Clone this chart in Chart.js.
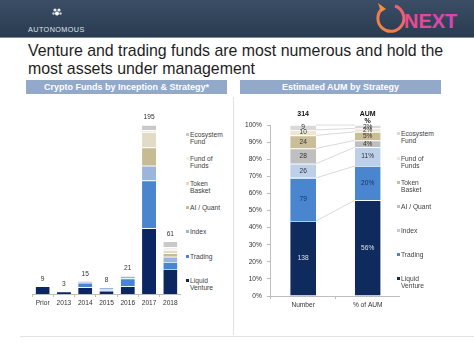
<!DOCTYPE html>
<html>
<head>
<meta charset="utf-8">
<script src="https://cdn.jsdelivr.net/npm/chart.js@4.4.1/dist/chart.umd.min.js"></script>
<style>
  html,body{margin:0;padding:0;background:#fff;}
  body{width:474px;height:343px;position:relative;overflow:hidden;font-family:"Liberation Sans",Arial,sans-serif;}
  .hdr{position:absolute;left:0;top:0;width:474px;height:37px;background:linear-gradient(#3b4e65,#2a3b51);border-bottom:1px solid #7a899b;}
  .auto{position:absolute;left:28px;top:25px;font-size:7.2px;color:#dfe4ea;letter-spacing:0.45px;}
  .title{position:absolute;left:28px;top:42px;font-size:15.9px;line-height:18px;color:#1e1e1e;white-space:nowrap;}
  .ph{position:absolute;top:80px;height:14px;background:#93a9c9;color:#fff;font-weight:bold;font-size:9px;line-height:14px;text-align:center;white-space:nowrap;}
  .box{position:absolute;}
  .leg{position:absolute;font-size:6.7px;line-height:7.4px;color:#404040;}
  .leg i{position:absolute;left:-4px;top:2px;width:2.6px;height:2.6px;}
  .sep{position:absolute;background:#e2e2e2;}
</style>
</head>
<body>
<div class="hdr">
  <svg width="474" height="38" style="position:absolute;left:0;top:0">
    <defs>
      <linearGradient id="ring" x1="0" y1="1" x2="1" y2="0">
        <stop offset="0" stop-color="#f08a3c"/><stop offset="1" stop-color="#ee5a78"/>
      </linearGradient>
      <linearGradient id="nx" x1="0" y1="0" x2="1" y2="0">
        <stop offset="0" stop-color="#ec4a86"/><stop offset="1" stop-color="#d544c0"/>
      </linearGradient>
    </defs>
    <circle cx="55" cy="10" r="1.6" fill="#e6e9ee"/>
    <circle cx="59" cy="10" r="1.6" fill="#e6e9ee"/>
    <circle cx="57" cy="13.5" r="2" fill="#ffffff"/>
    <circle cx="53.5" cy="13.5" r="1.2" fill="#c9d0da"/>
    <circle cx="60.5" cy="13.5" r="1.2" fill="#c9d0da"/>
    <path d="M383 8 A13 13 0 1 0 395 6" fill="none" stroke="url(#ring)" stroke-width="3"/>
    <path d="M378 3 L386 9 L381 12 Z" fill="#f0903c"/>
    <text x="404" y="28" font-family="Liberation Sans, Arial" font-weight="bold" font-size="20" fill="url(#nx)">NEXT</text>
  </svg>
  <div class="auto">AUTONOMOUS</div>
</div>
<div class="title">Venture and trading funds are most numerous and hold the<br>most assets under management</div>
<div class="ph" style="left:26px;width:201px;">Crypto Funds by Inception &amp; Strategy*</div>
<div class="ph" style="left:240px;width:201px;">Estimated AUM by Strategy</div>
<div class="sep" style="left:233px;top:97px;width:1px;height:238px;"></div>
<div class="sep" style="left:20px;top:336px;width:454px;height:1px;"></div>

<div class="box" style="left:32px;top:105px;width:149px;height:204px;"><canvas id="c1"></canvas></div>
<div class="box" style="left:240px;top:100px;width:160px;height:211px;"><canvas id="c2"></canvas></div>
<div id="leg1"></div>
<div id="leg2"></div>

<script>
// ---------- Left chart data: crypto funds by inception year & strategy ----------
const years = ['Prior','2013','2014','2015','2016','2017','2018'];
const liquidVenture = [9, 3, 8, 4, 9, 76, 29];
const trading       = [0, 0, 5, 2, 9, 55, 8];
const indexFunds    = [0, 0, 2, 2, 3, 17, 6];
const aiQuant       = [0, 0, 0, 0, 0, 21, 4];
const tokenBasket   = [0, 0, 0, 0, 0, 18, 4];
const fundOfFunds   = [0, 0, 0, 0, 0, 2, 3];
const ecosystemFund = [0, 0, 0, 0, 0, 6, 7];

// ---------- Right chart data: number of funds and % of AUM by strategy ----------
const barLabels   = ['Number', '% of AUM'];
const strategies  = ['Liquid Venture','Trading','Index','AI / Quant','Token Basket','Fund of Funds','Ecosystem Fund'];
const fundCounts  = [138, 79, 26, 28, 24, 10, 9];
const aumPercent  = [56, 20, 11, 4, 5, 2, 2];
const pctTicks    = [0,10,20,30,40,50,60,70,80,90,100];

// legend text (two-line where the reference wraps)
const legendText = ['Liquid<br>Venture','Trading','Index','AI / Quant','Token<br>Basket','Fund of<br>Funds','Ecosystem<br>Fund'];

const leftColors  = ['#0c2662','#4a86cf','#9cb5dc','#c7bb93','#e2dcc6','#f1eee3','#c9c9c9'];
const rightColors = ['#0f2b5d','#4a86cf','#bdd0ea','#bfbfbf','#c9be97','#ece6d3','#d9d9d9'];

const leftSeries = [liquidVenture, trading, indexFunds, aiQuant, tokenBasket, fundOfFunds, ecosystemFund];
const FONT = '"Liberation Sans", Arial, sans-serif';

// ---------- Left chart ----------
const totalsPlugin = {
  id:'totals',
  afterDatasetsDraw(chart){
    const ctx = chart.ctx, xs = chart.scales.x, ys = chart.scales.y;
    ctx.save();
    ctx.font = '6.6px ' + FONT;
    ctx.fillStyle = '#333';
    ctx.textAlign = 'center';
    ctx.textBaseline = 'bottom';
    years.forEach((y,i)=>{
      const tot = leftSeries.reduce((s,arr)=>s+arr[i],0);
      ctx.fillText(String(tot), xs.getPixelForValue(i), ys.getPixelForValue(tot) - 4);
    });
    ctx.restore();
  }
};

new Chart(document.getElementById('c1'), {
  type:'bar',
  data:{
    labels: years,
    datasets: leftSeries.map((arr,i)=>({
      label: strategies[i], data: arr, backgroundColor: leftColors[i],
      borderColor:'rgba(255,255,255,0.85)', borderWidth:{top:0.8,left:0,right:0,bottom:0}, borderSkipped:false,
      barPercentage:0.66, categoryPercentage:1
    }))
  },
  options:{
    responsive:true, maintainAspectRatio:false, animation:false, devicePixelRatio:1,
    layout:{padding:0},
    plugins:{legend:{display:false}, tooltip:{enabled:false}},
    scales:{
      x:{stacked:true, grid:{drawOnChartArea:false, tickLength:3, color:'#bdbdbd', offset:true},
         border:{color:'#bdbdbd'}, ticks:{font:{size:6.6, family:FONT}, color:'#333', padding:2, maxRotation:0}},
      y:{stacked:true, display:false, min:0, max:218}
    }
  },
  plugins:[totalsPlugin]
});

// ---------- Right chart ----------
const totalFunds = fundCounts.reduce((a,b)=>a+b,0);
const numberPct = fundCounts.map(v => v / totalFunds * 100);

const aumPlugin = {
  id:'aum',
  beforeDatasetsDraw(chart){
    const ctx = chart.ctx, ys = chart.scales.y;
    const m0 = chart.getDatasetMeta(0).data[0], m1 = chart.getDatasetMeta(0).data[1];
    const x1 = m0.x + m0.width/2, x2 = m1.x - m1.width/2;
    let c1 = 0, c2 = 0;
    ctx.save();
    ctx.strokeStyle = '#cfcfcf'; ctx.lineWidth = 0.8;
    for (let i=0;i<strategies.length;i++){
      c1 += numberPct[i]; c2 += aumPercent[i];
      ctx.beginPath();
      ctx.moveTo(x1, ys.getPixelForValue(c1));
      ctx.lineTo(x2, ys.getPixelForValue(c2));
      ctx.stroke();
    }
    ctx.restore();
  },
  afterDatasetsDraw(chart){
    const ctx = chart.ctx, ys = chart.scales.y, xs = chart.scales.x;
    ctx.save();
    ctx.textAlign = 'center'; ctx.textBaseline = 'middle';
    ctx.font = '6.6px ' + FONT;
    strategies.forEach((s,i)=>{
      const meta = chart.getDatasetMeta(i);
      [0,1].forEach(j=>{
        const el = meta.data[j];
        const txt = j===0 ? String(fundCounts[i]) : aumPercent[i] + '%';
        ctx.fillStyle = i===0 ? '#d9e0ea' : (i===1 ? '#1b2f5c' : '#333');
        ctx.fillText(txt, el.x, (el.y + el.base)/2);
      });
    });
    ctx.font = 'bold 7px ' + FONT;
    ctx.fillStyle = '#111';
    ctx.fillText(String(totalFunds), xs.getPixelForValue(0), ys.top - 11);
    ctx.fillText('AUM', xs.getPixelForValue(1), ys.top - 11);
    ctx.fillText('%', xs.getPixelForValue(1), ys.top - 4);
    ctx.restore();
  }
};

new Chart(document.getElementById('c2'), {
  type:'bar',
  data:{
    labels: barLabels,
    datasets: strategies.map((s,i)=>({
      label: s, data: [numberPct[i], aumPercent[i]], backgroundColor: rightColors[i],
      borderColor:'rgba(255,255,255,0.9)', borderWidth:{top:0.8,left:0,right:0,bottom:0}, borderSkipped:false,
      barPercentage:0.4, categoryPercentage:1
    }))
  },
  options:{
    responsive:true, maintainAspectRatio:false, animation:false, devicePixelRatio:1,
    layout:{padding:{top:25, right:0, left:0, bottom:0}},
    plugins:{legend:{display:false}, tooltip:{enabled:false}},
    scales:{
      x:{stacked:true, grid:{drawOnChartArea:false, tickLength:3, color:'#bdbdbd', offset:true},
         border:{color:'#bdbdbd'}, ticks:{font:{size:6.6, family:FONT}, color:'#333', padding:2}},
      y:{stacked:true, min:0, max:100, afterBuildTicks(ax){ ax.ticks = pctTicks.map(v=>({value:v})); },
         grid:{drawOnChartArea:false, tickLength:4, color:'#bdbdbd'}, border:{color:'#bdbdbd'},
         ticks:{font:{size:6.6, family:FONT}, color:'#333', padding:5, callback:v=>v+'%'}}
    }
  },
  plugins:[aumPlugin]
});

// ---------- HTML legends built from strategy arrays ----------
function buildLegend(id, left, tops, colors){
  const host = document.getElementById(id);
  for (let k=0;k<strategies.length;k++){
    const i = strategies.length - 1 - k;
    const d = document.createElement('div');
    d.className = 'leg';
    d.style.left = left + 'px';
    d.style.top = tops[k] + 'px';
    d.innerHTML = '<i style="background:'+colors[i]+'"></i>' + legendText[i];
    host.appendChild(d);
  }
}
buildLegend('leg1', 190, [131,155,180,204,228,253,277], leftColors);
buildLegend('leg2', 401, [130,155,179,203,227,251,275], rightColors);
</script>
</body>
</html>
